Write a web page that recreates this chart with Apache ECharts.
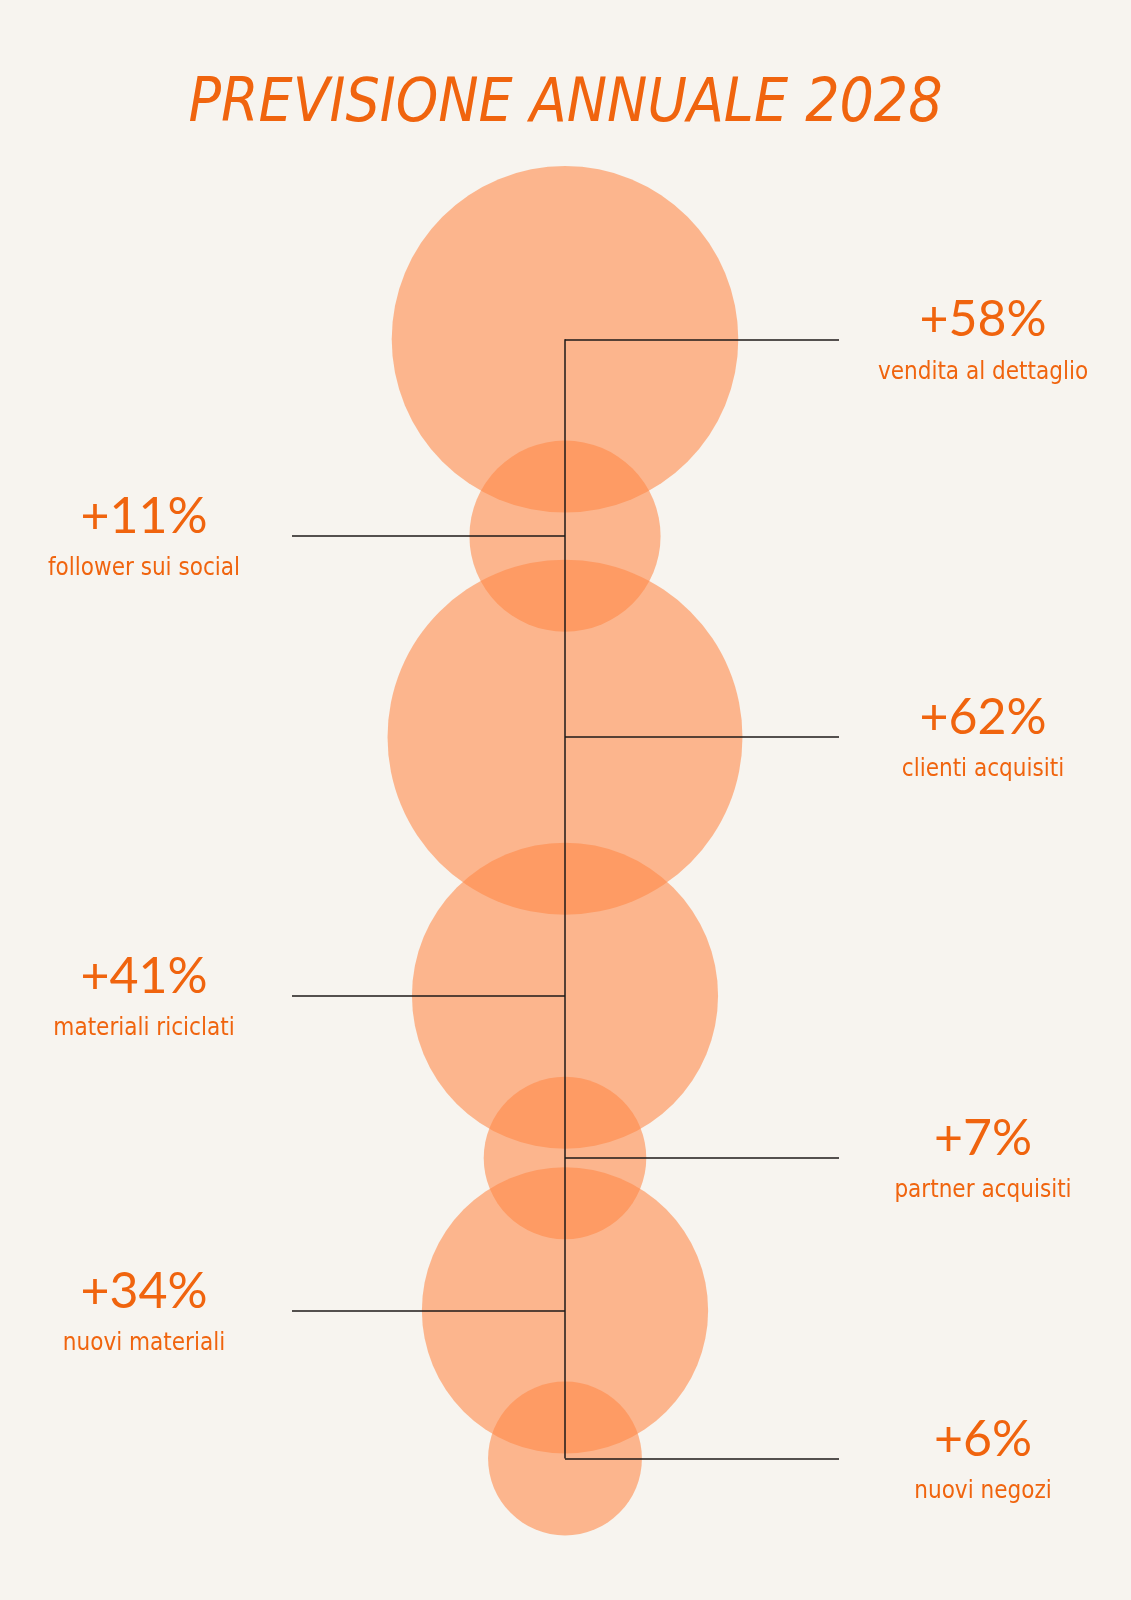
<!DOCTYPE html>
<html>
<head>
<meta charset="utf-8">
<script src="https://cdn.jsdelivr.net/npm/echarts@6/dist/echarts.min.js"></script>
<style>
  html, body { margin: 0; padding: 0; background: #f7f4ef; }
  #chart { width: 1131px; height: 1600px; }
</style>
</head>
<body>
<div id="chart"></div>
<script>
// dati
var categorie = ['vendita al dettaglio', 'follower sui social', 'clienti acquisiti',
  'materiali riciclati', 'partner acquisiti', 'nuovi materiali', 'nuovi negozi'];
var valori = [58, 11, 62, 41, 7, 34, 6];
var lati = ['right', 'left', 'right', 'left', 'right', 'left', 'right'];

var arancio = '#f0640e';
var cx = 565;          // asse verticale della colonna di bolle
var overlap = 72;      // quanto si sovrappongono due bolle vicine
var topBolle = 166;    // bordo alto della prima bolla

// raggio da valore (scala a potenza)
function raggio(v) {
  return 40.5 * Math.pow(v, 0.358);
}

// posizione verticale delle bolle: ognuna si appoggia alla precedente
var centri = [];
var y = topBolle + raggio(valori[0]);
valori.forEach(function (v, i) {
  if (i > 0) y += raggio(valori[i - 1]) + raggio(v) - overlap;
  centri.push(y);
});

var bolle = valori.map(function (v, i) {
  return { name: categorie[i], value: [cx, centri[i], v] };
});

var etichette = valori.map(function (v, i) {
  return {
    name: categorie[i],
    value: [lati[i] === 'right' ? 983 : 144, centri[i], v]
  };
});

var linee = [[{ coord: [cx, centri[0]] }, { coord: [cx, centri[centri.length - 1]] }]];
centri.forEach(function (c, i) {
  linee.push([{ coord: [cx, c] }, { coord: [lati[i] === 'right' ? 839 : 292, c] }]);
});

var myChart = echarts.init(document.getElementById('chart'));
myChart.setOption({
  backgroundColor: '#f7f4ef',
  animation: false,
  title: {
    text: 'PREVISIONE ANNUALE 2028',
    left: 'center',
    top: 70,
    textStyle: {
      fontFamily: '"Liberation Sans Narrow", "DejaVu Sans Condensed", sans-serif',
      fontStyle: 'italic',
      fontWeight: 'normal',
      fontSize: 60,
      color: arancio
    }
  },
  grid: { left: 0, right: 0, top: 0, bottom: 0 },
  xAxis: { type: 'value', min: 0, max: 1131, show: false },
  yAxis: { type: 'value', min: 0, max: 1600, inverse: true, show: false },
  series: [{
    type: 'scatter',
    data: bolle,
    symbol: 'circle',
    symbolSize: function (val) { return 2 * raggio(val[2]); },
    itemStyle: { color: 'rgba(255,136,70,0.58)', opacity: 1 },
    silent: true,
    z: 1
  }, {
    type: 'scatter',
    data: [],
    silent: true,
    z: 3,
    markLine: {
      silent: true,
      symbol: 'none',
      label: { show: false },
      lineStyle: { color: '#1e1a18', width: 1.5, type: 'solid', opacity: 1 },
      data: linee
    }
  }, {
    type: 'scatter',
    data: etichette,
    symbolSize: 0,
    itemStyle: { opacity: 1 },
    silent: true,
    z: 4,
    label: {
      show: true,
      position: 'inside',
      offset: [0, 7],
      formatter: function (p) {
        return '{v|+' + p.value[2] + '%}\n{n|' + p.name + '}';
      },
      rich: {
        v: {
          fontFamily: 'Lato, sans-serif',
          fontSize: 50,
          color: arancio,
          lineHeight: 52,
          align: 'center'
        },
        n: {
          fontFamily: '"Liberation Sans Narrow", "DejaVu Sans Condensed", sans-serif',
          fontSize: 24,
          color: arancio,
          lineHeight: 52,
          align: 'center'
        }
      }
    }
  }]
});
</script>
</body>
</html>
